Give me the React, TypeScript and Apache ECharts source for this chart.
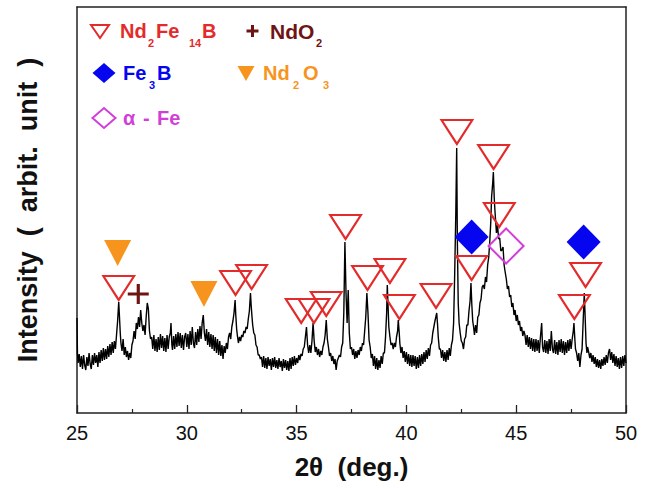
import React, { useEffect, useRef } from 'react';
import * as echarts from 'echarts';

// XRD pattern: [2θ (deg), intensity (arb.)]
const pattern: [number, number][] = [
  [25.0, 95], [25.02, 60], [25.05, 50], [25.1, 59], [25.15, 46], [25.2, 57], [25.25, 44], [25.3, 58], [25.35, 48], [25.4, 43],
  [25.45, 56], [25.5, 47], [25.55, 60], [25.6, 49], [25.65, 44], [25.7, 58], [25.75, 48], [25.8, 60], [25.85, 50], [25.9, 58],
  [25.95, 46], [26.0, 61], [26.05, 50], [26.1, 63], [26.15, 52], [26.2, 65], [26.25, 53], [26.3, 64], [26.35, 54], [26.4, 67],
  [26.45, 56], [26.5, 69], [26.55, 58], [26.6, 71], [26.65, 60], [26.7, 72], [26.75, 64], [26.8, 78], [26.85, 92], [26.9, 111],
  [26.93, 98], [26.97, 80], [27.0, 70], [27.05, 62], [27.1, 74], [27.15, 58], [27.2, 66], [27.25, 56], [27.3, 62], [27.35, 53],
  [27.4, 60], [27.45, 55], [27.5, 68], [27.55, 72], [27.6, 82], [27.65, 74], [27.7, 90], [27.75, 84], [27.8, 96], [27.85, 86],
  [27.9, 103], [27.95, 90], [28.0, 82], [28.05, 88], [28.1, 78], [28.15, 96], [28.2, 110], [28.25, 104], [28.3, 82], [28.35, 74],
  [28.4, 76], [28.45, 64], [28.5, 78], [28.55, 62], [28.6, 74], [28.65, 61], [28.7, 76], [28.75, 63], [28.8, 79], [28.85, 65],
  [28.9, 77], [28.95, 62], [29.0, 75], [29.05, 61], [29.1, 78], [29.15, 64], [29.2, 76], [29.25, 80], [29.28, 90], [29.32, 68],
  [29.35, 63], [29.4, 77], [29.45, 64], [29.5, 79], [29.55, 66], [29.6, 81], [29.65, 67], [29.7, 80], [29.75, 65], [29.8, 78],
  [29.85, 63], [29.9, 76], [29.95, 80], [30.0, 66], [30.05, 79], [30.1, 64], [30.15, 82], [30.2, 68], [30.25, 86], [30.3, 70],
  [30.35, 65], [30.4, 81], [30.45, 68], [30.5, 84], [30.55, 71], [30.6, 87], [30.65, 74], [30.7, 90], [30.75, 98], [30.8, 80],
  [30.85, 72], [30.9, 84], [30.95, 68], [31.0, 81], [31.05, 66], [31.1, 79], [31.15, 64], [31.2, 78], [31.25, 62], [31.3, 76],
  [31.35, 60], [31.4, 74], [31.45, 58], [31.5, 72], [31.55, 57], [31.6, 68], [31.65, 54], [31.7, 67], [31.75, 60], [31.8, 70],
  [31.85, 64], [31.9, 76], [31.95, 80], [32.0, 74], [32.05, 86], [32.1, 92], [32.15, 100], [32.2, 113], [32.23, 98], [32.27, 84],
  [32.3, 78], [32.35, 70], [32.4, 76], [32.45, 72], [32.5, 78], [32.55, 76], [32.6, 82], [32.65, 80], [32.7, 86], [32.75, 84],
  [32.8, 94], [32.85, 102], [32.9, 120], [32.93, 108], [32.97, 96], [33.0, 88], [33.05, 80], [33.1, 78], [33.15, 68], [33.2, 66],
  [33.25, 58], [33.3, 58], [33.35, 54], [33.4, 56], [33.45, 46], [33.5, 57], [33.55, 45], [33.6, 55], [33.65, 44], [33.7, 56],
  [33.75, 47], [33.8, 54], [33.85, 43], [33.9, 55], [33.95, 46], [34.0, 56], [34.05, 45], [34.1, 53], [34.15, 44], [34.2, 55],
  [34.25, 46], [34.3, 52], [34.35, 42], [34.4, 54], [34.45, 45], [34.5, 53], [34.55, 43], [34.6, 52], [34.65, 42], [34.7, 55],
  [34.75, 44], [34.8, 56], [34.85, 47], [34.9, 57], [34.95, 48], [35.0, 55], [35.05, 50], [35.1, 58], [35.15, 53], [35.2, 59],
  [35.25, 57], [35.3, 64], [35.35, 66], [35.4, 76], [35.45, 86], [35.5, 68], [35.55, 60], [35.6, 68], [35.65, 60], [35.7, 72],
  [35.75, 90], [35.8, 72], [35.85, 61], [35.9, 66], [35.95, 58], [36.0, 64], [36.05, 56], [36.1, 62], [36.15, 58], [36.2, 66],
  [36.25, 70], [36.3, 78], [36.35, 93], [36.4, 74], [36.45, 66], [36.5, 57], [36.55, 60], [36.6, 52], [36.65, 57], [36.7, 49],
  [36.75, 54], [36.8, 43], [36.85, 52], [36.9, 55], [36.95, 58], [37.0, 56], [37.05, 66], [37.1, 70], [37.15, 100], [37.2, 171],
  [37.25, 120], [37.3, 90], [37.35, 123], [37.4, 80], [37.45, 64], [37.5, 66], [37.55, 58], [37.6, 64], [37.65, 54], [37.7, 62],
  [37.75, 55], [37.8, 63], [37.85, 58], [37.9, 66], [37.95, 62], [38.0, 70], [38.05, 68], [38.1, 82], [38.15, 96], [38.2, 120],
  [38.25, 100], [38.3, 73], [38.35, 66], [38.4, 55], [38.45, 59], [38.5, 47], [38.55, 57], [38.6, 44], [38.65, 55], [38.7, 43],
  [38.75, 53], [38.8, 45], [38.85, 57], [38.9, 49], [38.95, 60], [39.0, 60], [39.05, 76], [39.1, 100], [39.13, 128], [39.17, 104],
  [39.2, 86], [39.25, 76], [39.3, 68], [39.35, 70], [39.4, 64], [39.45, 70], [39.5, 66], [39.55, 76], [39.6, 82], [39.63, 93],
  [39.68, 78], [39.7, 70], [39.75, 60], [39.8, 66], [39.85, 55], [39.9, 62], [39.95, 51], [40.0, 61], [40.05, 49], [40.1, 59],
  [40.15, 47], [40.2, 58], [40.25, 46], [40.3, 58], [40.35, 47], [40.4, 57], [40.45, 44], [40.5, 56], [40.55, 45], [40.6, 58],
  [40.65, 47], [40.7, 59], [40.75, 49], [40.8, 61], [40.85, 51], [40.9, 63], [40.95, 54], [41.0, 65], [41.05, 57], [41.1, 68],
  [41.15, 70], [41.2, 80], [41.25, 86], [41.3, 92], [41.38, 100], [41.42, 88], [41.45, 76], [41.5, 64], [41.55, 64], [41.6, 55],
  [41.65, 63], [41.7, 52], [41.75, 61], [41.8, 51], [41.85, 63], [41.9, 53], [41.95, 65], [42.0, 57], [42.05, 68], [42.1, 73],
  [42.15, 90], [42.2, 140], [42.25, 200], [42.29, 265], [42.32, 173], [42.36, 110], [42.4, 90], [42.45, 80], [42.5, 72], [42.55, 70],
  [42.6, 64], [42.65, 74], [42.7, 76], [42.75, 88], [42.8, 88], [42.85, 102], [42.9, 112], [42.94, 130], [42.98, 108], [43.02, 92],
  [43.06, 86], [43.1, 78], [43.15, 88], [43.2, 80], [43.25, 96], [43.3, 98], [43.35, 110], [43.4, 114], [43.45, 126], [43.5, 128],
  [43.55, 124], [43.6, 136], [43.65, 131], [43.7, 148], [43.75, 156], [43.8, 173], [43.84, 190], [43.88, 216], [43.93, 230], [43.96, 241],
  [44.0, 215], [44.03, 203], [44.07, 190], [44.1, 180], [44.15, 188], [44.2, 174], [44.25, 175], [44.3, 162], [44.35, 163], [44.4, 166],
  [44.45, 148], [44.49, 142], [44.55, 134], [44.6, 124], [44.65, 127], [44.7, 116], [44.75, 118], [44.8, 106], [44.85, 110], [44.9, 98],
  [44.95, 103], [45.0, 92], [45.05, 98], [45.1, 88], [45.15, 92], [45.2, 82], [45.25, 86], [45.3, 77], [45.35, 82], [45.4, 78],
  [45.45, 68], [45.5, 78], [45.55, 66], [45.6, 76], [45.65, 64], [45.7, 75], [45.75, 62], [45.8, 74], [45.85, 61], [45.9, 74],
  [45.95, 62], [46.0, 73], [46.05, 60], [46.1, 75], [46.16, 90], [46.2, 66], [46.25, 61], [46.3, 73], [46.35, 60], [46.4, 72],
  [46.45, 59], [46.5, 74], [46.55, 62], [46.6, 82], [46.65, 64], [46.7, 60], [46.75, 73], [46.8, 59], [46.85, 71], [46.9, 58],
  [46.95, 73], [47.0, 61], [47.05, 74], [47.1, 60], [47.15, 72], [47.2, 58], [47.25, 71], [47.3, 60], [47.35, 73], [47.4, 62],
  [47.45, 74], [47.5, 64], [47.55, 74], [47.6, 82], [47.63, 90], [47.67, 74], [47.7, 64], [47.75, 60], [47.8, 52], [47.85, 60],
  [47.9, 46], [47.95, 58], [48.0, 64], [48.05, 92], [48.1, 120], [48.14, 96], [48.18, 70], [48.22, 60], [48.25, 66], [48.3, 61],
  [48.35, 55], [48.4, 60], [48.45, 51], [48.5, 58], [48.55, 49], [48.6, 56], [48.65, 46], [48.7, 54], [48.75, 45], [48.8, 53],
  [48.85, 44], [48.9, 54], [48.95, 47], [49.0, 56], [49.05, 48], [49.1, 58], [49.15, 50], [49.2, 60], [49.25, 64], [49.3, 53],
  [49.35, 61], [49.4, 50], [49.45, 59], [49.5, 47], [49.55, 57], [49.6, 46], [49.65, 55], [49.7, 44], [49.75, 56], [49.8, 45],
  [49.85, 57], [49.9, 47], [49.95, 58], [50.0, 50],
];

// Phase markers [2θ, marker height]
const ndFeBMarks: [number, number][] = [
  [26.9, 125], [32.22, 130], [32.95, 136], [35.21, 102], [35.79, 102], [36.35, 109], [37.23, 186],
  [38.23, 135], [39.25, 142], [39.68, 106], [41.35, 117], [42.3, 281], [42.97, 145], [43.97, 256],
  [44.23, 198], [47.65, 106], [48.16, 138],
];
const ndO2Marks: [number, number][] = [[27.79, 119]];
const nd2O3Marks: [number, number][] = [[26.85, 160], [30.78, 119]];
const fe3BMarks: [number, number][] = [[42.97, 176], [48.07, 171]];
const alphaFeMarks: [number, number][] = [[44.54, 167]];

const xTicks = { min: 25, max: 50, interval: 5 };

const FONT = '"Liberation Sans", Arial, Helvetica, sans-serif';
const RED = '#e32b2b';
const DARKRED = '#6e1414';
const BLUE = '#0505f0';
const ORANGE = '#f7941d';
const MAGENTA = '#d23fd8';

const plusPath = 'path://M8.5,0 H11.5 V8.5 H20 V11.5 H11.5 V20 H8.5 V11.5 H0 V8.5 H8.5 Z';

function txt(text: string, x: number, y: number, size: number, color: string): any {
  return {
    type: 'text',
    x,
    y,
    z: 100,
    style: {
      text,
      fill: color,
      font: `bold ${size}px ${FONT}`,
      textAlign: 'left',
      textVerticalAlign: 'middle',
      align: 'left',
      verticalAlign: 'middle',
    },
  };
}

export default function App() {
  const ref = useRef<HTMLDivElement>(null);

  useEffect(() => {
    if (!ref.current) return;
    const chart = echarts.init(ref.current, null, { renderer: 'svg' });
    const axisColor = '#222';
    const r1 = 31;
    const r2 = 73;
    const r3 = 118;
    const sub = 12;
    chart.setOption({
      animation: false,
      backgroundColor: '#fff',
      grid: { left: 77, right: 23, top: 7, bottom: 76, containLabel: false },
      xAxis: [
        {
          type: 'value',
          min: xTicks.min,
          max: xTicks.max,
          interval: xTicks.interval,
          position: 'bottom',
          axisLine: { show: true, onZero: false, lineStyle: { color: axisColor, width: 1.5 } },
          axisTick: { show: true, inside: true, length: 8, lineStyle: { color: axisColor, width: 1.3 } },
          minorTick: { show: true, splitNumber: 2, length: 4, lineStyle: { color: axisColor, width: 1.2 } },
          axisLabel: { color: '#111', fontSize: 20, fontFamily: FONT, margin: 10 },
          splitLine: { show: false },
          name: '2θ  (deg.)',
          nameLocation: 'middle',
          nameGap: 41,
          nameTextStyle: { fontSize: 26, fontWeight: 'bold', color: '#111', fontFamily: FONT },
        },
        {
          type: 'value',
          min: xTicks.min,
          max: xTicks.max,
          position: 'top',
          axisLine: { show: true, onZero: false, lineStyle: { color: axisColor, width: 1.5 } },
          axisTick: { show: false },
          axisLabel: { show: false },
          splitLine: { show: false },
        },
      ],
      yAxis: [
        {
          type: 'value',
          min: 0,
          max: 406,
          position: 'left',
          axisLine: { show: true, onZero: false, lineStyle: { color: axisColor, width: 1.5 } },
          axisTick: { show: false },
          axisLabel: { show: false },
          splitLine: { show: false },
          name: 'Intensity  (  arbit.  unit  )',
          nameLocation: 'middle',
          nameGap: 36,
          nameRotate: 90,
          nameTextStyle: { fontSize: 27, fontWeight: 'bold', color: '#111', fontFamily: FONT },
        },
        {
          type: 'value',
          min: 0,
          max: 406,
          position: 'right',
          axisLine: { show: true, onZero: false, lineStyle: { color: axisColor, width: 1.5 } },
          axisTick: { show: false },
          axisLabel: { show: false },
          splitLine: { show: false },
        },
      ],
      series: [
        {
          type: 'line',
          data: pattern,
          symbol: 'none',
          lineStyle: { color: '#000', width: 1.4 },
          z: 2,
        },
        {
          type: 'scatter',
          data: ndFeBMarks,
          symbol: 'triangle',
          symbolRotate: 180,
          symbolSize: [31, 24],
          itemStyle: { color: 'rgba(0,0,0,0)', borderColor: RED, borderWidth: 2, opacity: 1 },
          z: 5,
        },
        {
          type: 'scatter',
          data: nd2O3Marks,
          symbol: 'triangle',
          symbolRotate: 180,
          symbolSize: [27, 26],
          itemStyle: { color: ORANGE, opacity: 1 },
          z: 5,
        },
        {
          type: 'scatter',
          data: ndO2Marks,
          symbol: plusPath,
          symbolSize: [21, 20],
          itemStyle: { color: DARKRED, opacity: 1 },
          z: 6,
        },
        {
          type: 'scatter',
          data: fe3BMarks,
          symbol: 'diamond',
          symbolSize: [34, 35],
          itemStyle: { color: BLUE, opacity: 1 },
          z: 4,
        },
        {
          type: 'scatter',
          data: alphaFeMarks,
          symbol: 'diamond',
          symbolSize: [35, 35],
          itemStyle: { color: 'rgba(0,0,0,0)', borderColor: MAGENTA, borderWidth: 2, opacity: 1 },
          z: 6,
        },
      ],
      graphic: [
        // Row 1: Nd2Fe14B  + NdO2
        {
          type: 'polygon',
          z: 100,
          shape: { points: [[91, 25], [109, 25], [100, 38]] },
          style: { fill: 'none', stroke: RED, lineWidth: 2 },
        },
        txt('Nd', 120, r1, 20, RED),
        txt('2', 148, r1 + sub, 11, RED),
        txt('Fe', 156, r1, 20, RED),
        txt('14', 189, r1 + sub, 11, RED),
        txt('B', 202, r1, 20, RED),
        { type: 'rect', z: 100, shape: { x: 246.5, y: 29.5, width: 12, height: 3 }, style: { fill: DARKRED } },
        { type: 'rect', z: 100, shape: { x: 251, y: 25, width: 3, height: 12 }, style: { fill: DARKRED } },
        txt('NdO', 270, r1, 21, DARKRED),
        txt('2', 316, r1 + sub, 11, DARKRED),
        // Row 2: Fe3B  Nd2O3
        {
          type: 'polygon',
          z: 100,
          shape: { points: [[92.5, r2], [104, r2 - 10], [115.5, r2], [104, r2 + 10]] },
          style: { fill: BLUE },
        },
        txt('Fe', 123, r2, 20, BLUE),
        txt('3', 149, r2 + sub, 11, BLUE),
        txt('B', 157, r2, 20, BLUE),
        {
          type: 'polygon',
          z: 100,
          shape: { points: [[237.5, r2 - 7], [254.5, r2 - 7], [246, r2 + 8]] },
          style: { fill: ORANGE },
        },
        txt('Nd', 263, r2, 20, ORANGE),
        txt('2', 293, r2 + sub, 11, ORANGE),
        txt('O', 303, r2, 20, ORANGE),
        txt('3', 323, r2 + sub, 11, ORANGE),
        // Row 3: α - Fe
        {
          type: 'polygon',
          z: 100,
          shape: { points: [[92.5, r3], [104, r3 - 10], [115.5, r3], [104, r3 + 10]] },
          style: { fill: 'none', stroke: MAGENTA, lineWidth: 2 },
        },
        txt('α', 123, r3, 20, MAGENTA),
        txt('-', 143, r3, 20, MAGENTA),
        txt('Fe', 157, r3, 20, MAGENTA),
      ],
    });
    return () => chart.dispose();
  }, []);

  return (
    <div
      ref={ref}
      style={{ position: 'absolute', left: 0, top: 0, width: 649, height: 489, background: '#fff' }}
    />
  );
}
